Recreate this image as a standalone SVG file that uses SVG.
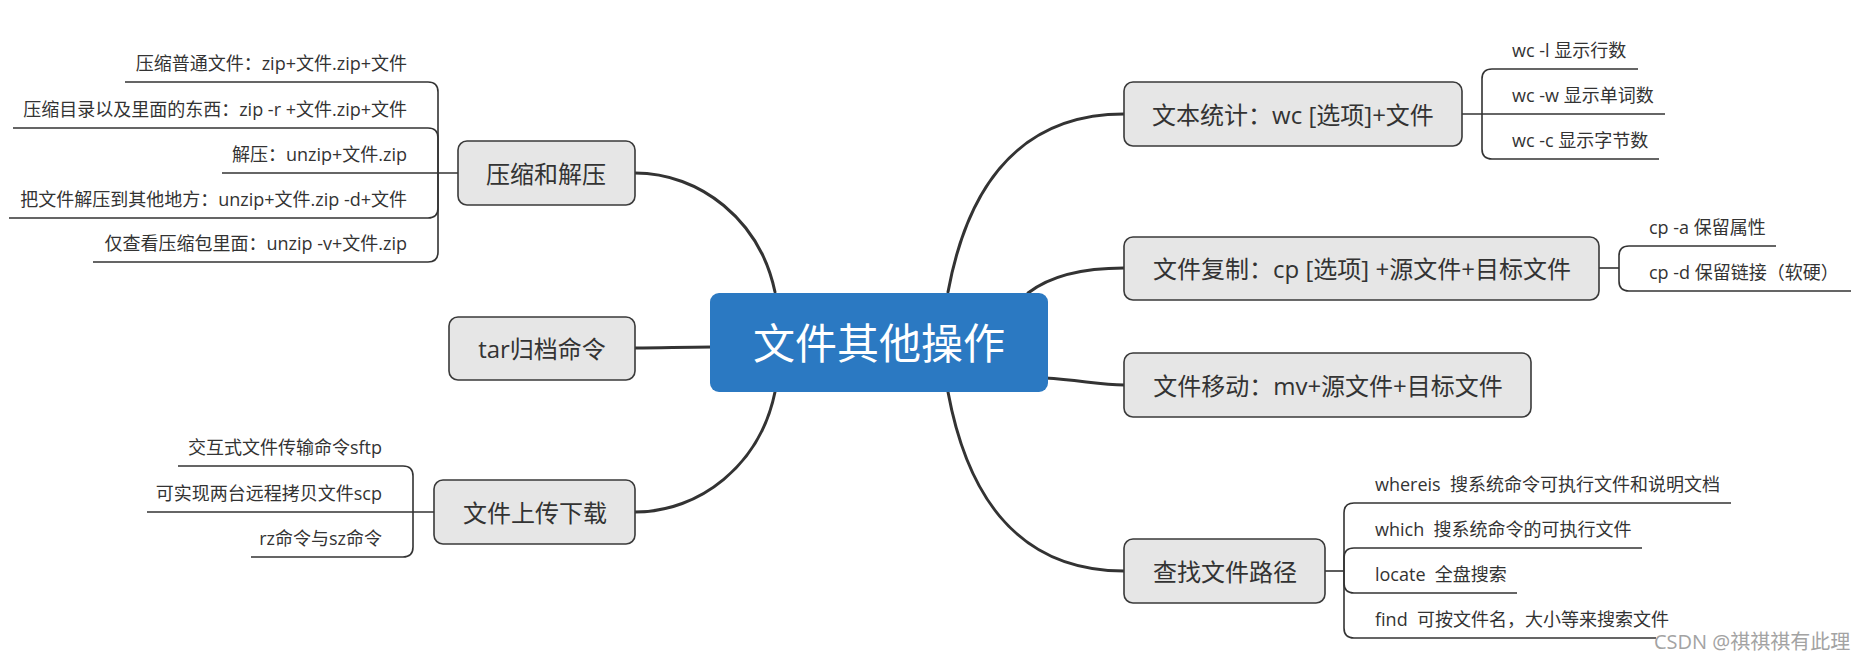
<svg xmlns="http://www.w3.org/2000/svg" width="1862" height="661" viewBox="0 0 1862 661">
<style>
  .bg{fill:#ffffff}
  .main{fill:none;stroke:#333333;stroke-width:3;stroke-linecap:round}
  .leafline{fill:none;stroke:#333333;stroke-width:1.6}
  .node rect{fill:#e6e6e6;stroke:#3a3a3a;stroke-width:1.6}
  .ntext{font-family:"Open Sans","Noto Sans CJK SC",sans-serif;font-size:24px;fill:#333333;text-anchor:middle;dominant-baseline:central}
  .leaf{font-family:"Open Sans","Noto Sans CJK SC",sans-serif;font-size:18px;fill:#333333;white-space:pre}
  .r{text-anchor:end}
  .ctext{font-family:"Open Sans","Noto Sans CJK SC",sans-serif;font-size:42px;fill:#ffffff;text-anchor:middle;dominant-baseline:central}
  .wm{font-family:"Open Sans","Noto Sans CJK SC",sans-serif;font-size:20px;fill:#a3a3a3}
</style>
<rect class="bg" x="0" y="0" width="1862" height="661"/>

<g id="connectors">
  <path class="main" d="M 635 173 C 700 173, 760 220, 775 292"/>
  <path class="main" d="M 635 348 C 665 348, 680 347, 712 347"/>
  <path class="main" d="M 635 512 C 700 512, 760 465, 775 392"/>
  <path class="main" d="M 948 292 C 965 200, 1010 114, 1124 114"/>
  <path class="main" d="M 1028 293 C 1050 276, 1080 268, 1124 268"/>
  <path class="main" d="M 1045 378 C 1080 380, 1100 385, 1124 385"/>
  <path class="main" d="M 948 392 C 965 484, 1010 571, 1124 571"/>

  <path class="leafline" d="M 458 173 H 222"/>
  <path class="leafline" d="M 438 173 V 92 Q 438 82 428 82 H 125"/>
  <path class="leafline" d="M 438 173 V 138 Q 438 128 428 128 H 13"/>
  <path class="leafline" d="M 438 173 V 208 Q 438 218 428 218 H 9"/>
  <path class="leafline" d="M 438 173 V 252 Q 438 262 428 262 H 93"/>

  <path class="leafline" d="M 434 512 H 147"/>
  <path class="leafline" d="M 413 512 V 476 Q 413 466 403 466 H 178"/>
  <path class="leafline" d="M 413 512 V 547 Q 413 557 403 557 H 251"/>

  <path class="leafline" d="M 1462 114 H 1665"/>
  <path class="leafline" d="M 1482 114 V 79 Q 1482 69 1492 69 H 1638"/>
  <path class="leafline" d="M 1482 114 V 149 Q 1482 159 1492 159 H 1659"/>

  <path class="leafline" d="M 1599 268 H 1619"/>
  <path class="leafline" d="M 1619 268 V 256 Q 1619 246 1629 246 H 1776"/>
  <path class="leafline" d="M 1619 268 V 281 Q 1619 291 1629 291 H 1851"/>

  <path class="leafline" d="M 1325 571 H 1344"/>
  <path class="leafline" d="M 1344 571 V 513 Q 1344 503 1354 503 H 1731"/>
  <path class="leafline" d="M 1344 571 V 558 Q 1344 548 1354 548 H 1642"/>
  <path class="leafline" d="M 1344 571 V 583 Q 1344 593 1354 593 H 1517"/>
  <path class="leafline" d="M 1344 571 V 628 Q 1344 638 1354 638 H 1656"/>
</g>

<g id="center">
  <rect x="710" y="293" width="338" height="99" rx="9" fill="#2b79c2"/>
  <text class="ctext" x="879" y="342">文件其他操作</text>
</g>

<g id="n-zip" class="node">
  <rect x="458" y="141" width="177" height="64" rx="9"/>
  <text class="ntext" x="546" y="173">压缩和解压</text>
</g>
<g id="n-tar" class="node">
  <rect x="449" y="317" width="186" height="63" rx="9"/>
  <text class="ntext" x="542" y="348">tar归档命令</text>
</g>
<g id="n-upload" class="node">
  <rect x="434" y="480" width="201" height="64" rx="9"/>
  <text class="ntext" x="535" y="512">文件上传下载</text>
</g>
<g id="n-wc" class="node">
  <rect x="1124" y="82" width="338" height="64" rx="9"/>
  <text class="ntext" x="1293" y="114">文本统计：wc [选项]+文件</text>
</g>
<g id="n-cp" class="node">
  <rect x="1124" y="237" width="475" height="63" rx="9"/>
  <text class="ntext" x="1362" y="268">文件复制：cp [选项] +源文件+目标文件</text>
</g>
<g id="n-mv" class="node">
  <rect x="1124" y="353" width="407" height="64" rx="9"/>
  <text class="ntext" x="1328" y="385">文件移动：mv+源文件+目标文件</text>
</g>
<g id="n-find" class="node">
  <rect x="1124" y="539" width="201" height="64" rx="9"/>
  <text class="ntext" x="1225" y="571">查找文件路径</text>
</g>

<g id="leaves-zip">
  <text class="leaf r" x="407" y="70">压缩普通文件：zip+文件.zip+文件</text>
  <text class="leaf r" x="407" y="116">压缩目录以及里面的东西：zip -r +文件.zip+文件</text>
  <text class="leaf r" x="407" y="161">解压：unzip+文件.zip</text>
  <text class="leaf r" x="407" y="206">把文件解压到其他地方：unzip+文件.zip -d+文件</text>
  <text class="leaf r" x="407" y="250">仅查看压缩包里面：unzip -v+文件.zip</text>
</g>
<g id="leaves-upload">
  <text class="leaf r" x="382" y="454">交互式文件传输命令sftp</text>
  <text class="leaf r" x="382" y="500">可实现两台远程拷贝文件scp</text>
  <text class="leaf r" x="382" y="545">rz命令与sz命令</text>
</g>
<g id="leaves-wc">
  <text class="leaf" x="1512" y="57">wc -l 显示行数</text>
  <text class="leaf" x="1512" y="102">wc -w 显示单词数</text>
  <text class="leaf" x="1512" y="147">wc -c 显示字节数</text>
</g>
<g id="leaves-cp">
  <text class="leaf" x="1649" y="234">cp -a 保留属性</text>
  <text class="leaf" x="1649" y="279">cp -d 保留链接（软硬）</text>
</g>
<g id="leaves-find">
  <text class="leaf" x="1375" y="491">whereis  搜系统命令可执行文件和说明文档</text>
  <text class="leaf" x="1375" y="536">which  搜系统命令的可执行文件</text>
  <text class="leaf" x="1375" y="581">locate  全盘搜索</text>
  <text class="leaf" x="1375" y="626">find  可按文件名，大小等来搜索文件</text>
</g>
<text class="wm" x="1654" y="649">CSDN @祺祺祺有此理</text>
</svg>
